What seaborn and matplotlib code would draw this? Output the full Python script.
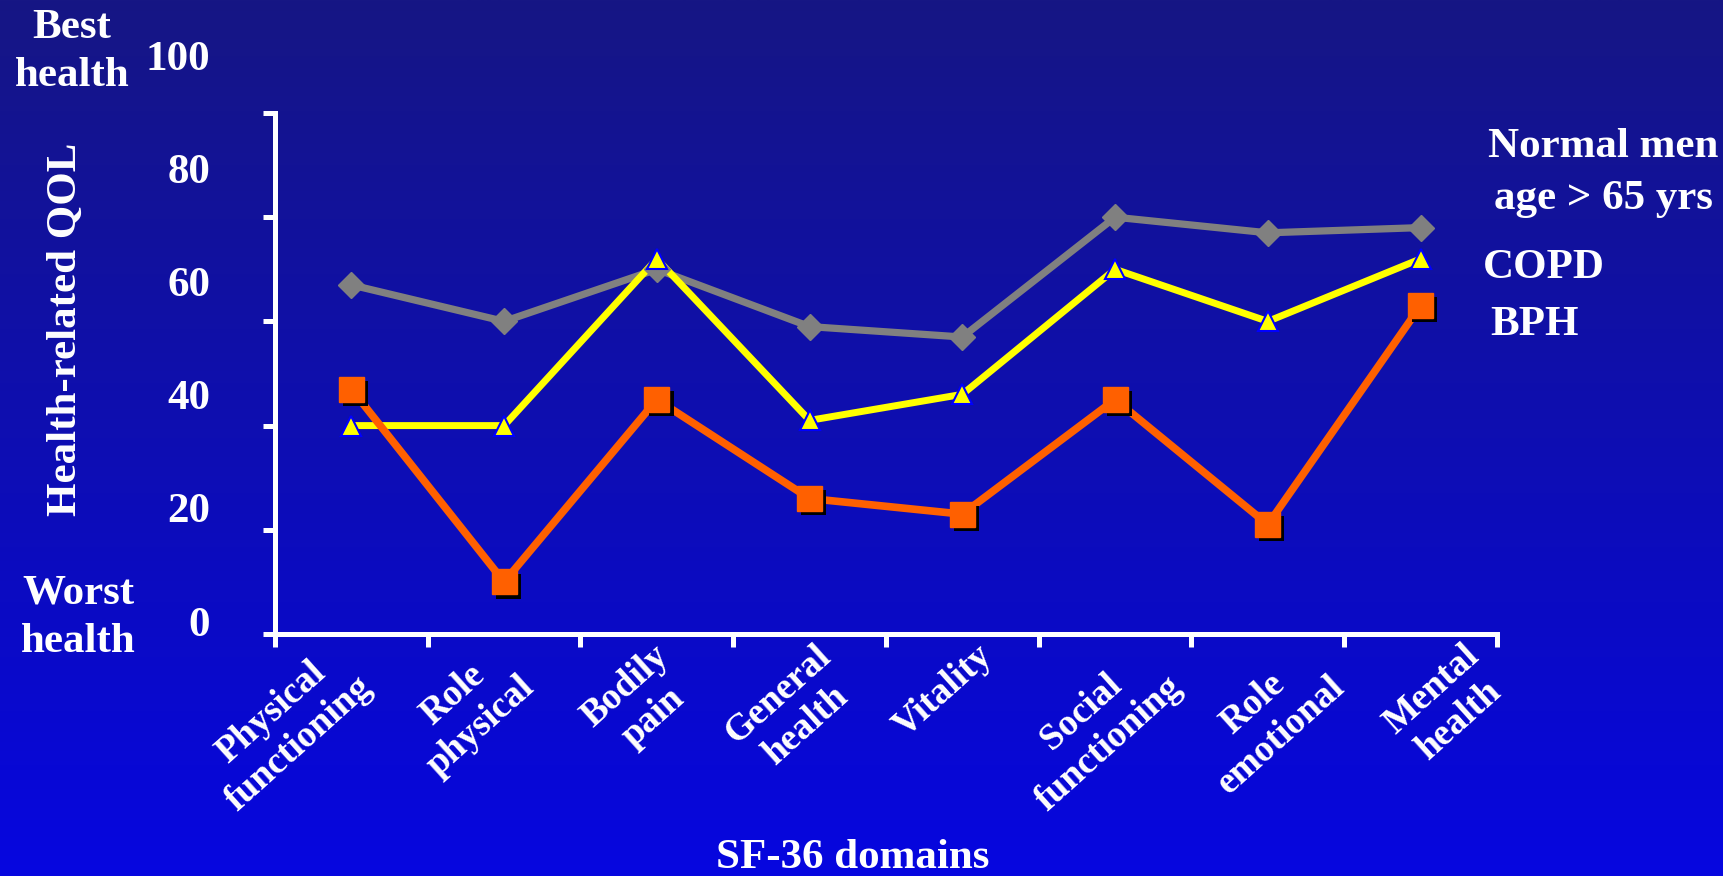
import numpy as np
import pandas as pd
import matplotlib
matplotlib.use("Agg")
import matplotlib.pyplot as plt
import matplotlib.patheffects as pe
from matplotlib.transforms import blended_transform_factory, ScaledTranslation
import seaborn as sns

# ---- data ----
categories = ["Physical\nfunctioning", "Role\nphysical", "Bodily\npain", "General\nhealth",
              "Vitality", "Social\nfunctioning", "Role\nemotional", "Mental\nhealth"]
normal_men = [67, 60, 70, 59, 57, 80, 77, 78]
copd = [40, 40, 72, 41, 46, 70, 60, 72]
bph = [47, 10, 45, 26, 23, 45, 21, 63]
y_tick_values = [0, 20, 40, 60, 80, 100]
y_tick_labels = ["0", "20", "40", "60", "80", "100"]

sns.set_theme(style="white")
plt.rcParams["font.family"] = ["Liberation Serif", "DejaVu Serif"]
plt.rcParams["font.weight"] = "bold"

fig = plt.figure(figsize=(17.23, 8.76), dpi=100)

# background gradient
bg = fig.add_axes([0, 0, 1, 1], zorder=-10)
h = 300
t = np.linspace(0, 1, h)[:, None]
top = np.array([22, 22, 132]) / 255
bot = np.array([6, 6, 224]) / 255
grad = top[None, None, :] * (1 - t[..., None]) + bot[None, None, :] * t[..., None]
grad = np.repeat(grad, 2, axis=1)
bg.imshow(grad, aspect="auto", extent=[0, 1, 0, 1])
bg.axis("off")

ax = fig.add_axes([0.1596, 0.2763, 0.7092, 0.5947])
ax.set_facecolor("none")

x = np.arange(len(categories))
df = pd.DataFrame({"x": x, "normal": normal_men, "copd": copd, "bph": bph})

# lines
sns.lineplot(data=df, x="x", y="normal", color="#808080", lw=5.2, ax=ax, zorder=3)
sns.lineplot(data=df, x="x", y="copd", color="#ffff00", lw=5.0, ax=ax, zorder=4)
sns.lineplot(data=df, x="x", y="bph", color="#ff6000", lw=5.5, ax=ax, zorder=5)
# markers
ax.plot(df["x"], df["normal"], ls="none", marker="D", ms=13, color="#808080",
        mec="#808080", zorder=6)
ax.plot(df["x"], df["copd"], ls="none", marker="^", ms=14, color="#ffff00",
        mec="#0000ff", mew=1.5, zorder=7)
ax.plot(df["x"], df["bph"], ls="none", marker="s", ms=18, color="#ff6000",
        mec="#ff6000", zorder=8,
        path_effects=[pe.SimplePatchShadow(offset=(3, -3), shadow_rgbFace="black", alpha=1.0),
                      pe.Normal()])

ax.set_xlim(-0.5, len(categories) - 0.5)
ax.set_ylim(0, 100)

for s in ["top", "right"]:
    ax.spines[s].set_visible(False)
for s in ["left", "bottom"]:
    ax.spines[s].set_color("white")
    ax.spines[s].set_linewidth(3.6)

# x ticks: boundaries as tick marks
ax.set_xticks(np.arange(-0.5, len(categories), 1.0))
ax.set_xticklabels([])
ax.tick_params(axis="x", which="major", bottom=True, direction="out", length=9,
               width=3.6, color="white")
# category labels (slide spaces them slightly wider than the categories)
label_pos = -0.046 + x * 1.061
ax.set_xticks(label_pos, minor=True)
ax.set_xticklabels(categories, minor=True, rotation=42, ha="right",
                   rotation_mode="anchor", fontsize=27, fontweight="bold", color="white",
                   multialignment="center", linespacing=1.25)
ax.tick_params(axis="x", which="minor", bottom=True, length=0, pad=3)
offset = ScaledTranslation(-12 / 72, 0, fig.dpi_scale_trans)
for lab in ax.get_xticklabels(minor=True):
    lab.set_transform(lab.get_transform() + offset)

# y ticks: marks only; labels placed as in the slide
ax.set_yticks(y_tick_values)
ax.set_yticklabels([])
ax.tick_params(axis="y", left=True, direction="out", length=9, width=3.6, color="white")
trans = blended_transform_factory(ax.transAxes, ax.transData)
for v, lab in zip(y_tick_values, y_tick_labels):
    ax.text(-0.053, 1.6 + v * 1.086, lab, transform=trans, ha="right", va="center",
            fontsize=31, fontweight="bold", color="white")

ax.set_xlabel("")
ax.set_ylabel("")

txt = dict(color="white", fontweight="bold", fontsize=31)
fig.text(66 / 1723, 1 - 329 / 876, "Health-related QOL", rotation=90, ha="center", va="center", **txt)
fig.text(853 / 1723, 1 - 858 / 876, "SF-36 domains", ha="center", va="center", **txt)
fig.text(72 / 1723, 1 - 52 / 876, "Best\nhealth", ha="center", va="center", linespacing=1.36, **txt)
fig.text(78 / 1723, 1 - 618 / 876, "Worst\nhealth", ha="center", va="center", linespacing=1.36, **txt)
fig.text(1603 / 1723, 1 - 173 / 876, "Normal men\nage > 65 yrs", ha="center", va="center",
         linespacing=1.45, **txt)
fig.text(1483 / 1723, 1 - 268 / 876, "COPD", ha="left", va="center", **txt)
fig.text(1490 / 1723, 1 - 325 / 876, "BPH", ha="left", va="center", **txt)

fig.savefig("out.png", dpi=100)
